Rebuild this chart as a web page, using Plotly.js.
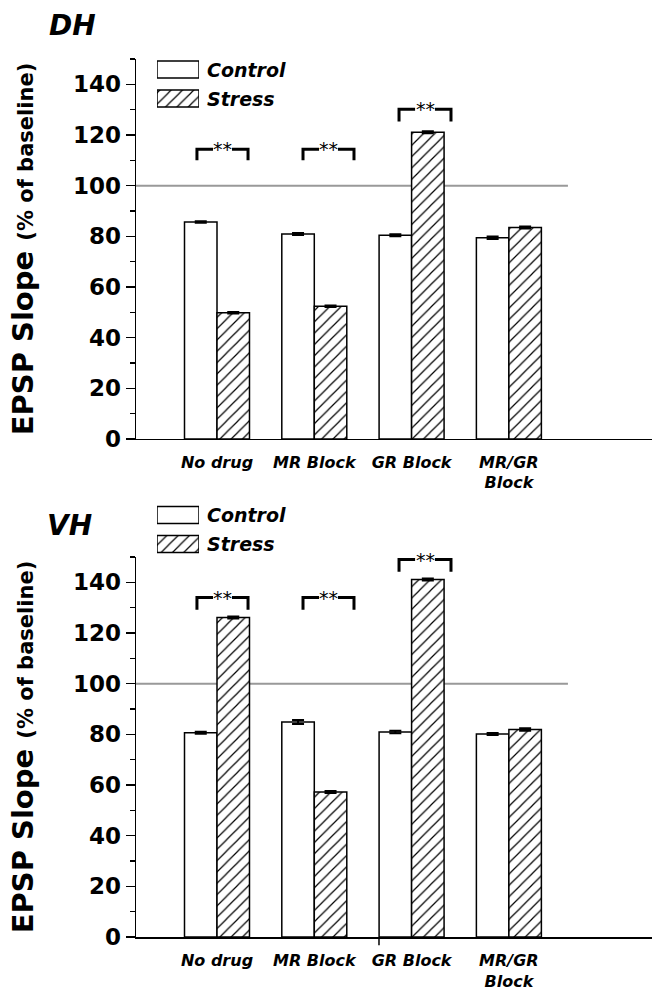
<!DOCTYPE html>
<html>
<head>
<meta charset="utf-8">
<script src="https://cdn.plot.ly/plotly-3.0.1.min.js"></script>
<style>html,body{margin:0;padding:0;background:#fff;}#chart{width:652px;height:993px;}</style>
</head>
<body>
<div id="chart"></div>
<script>
// ---- data ----
const categories = ['No drug', 'MR Block', 'GR Block', 'MR/GR<br>Block'];
const dhControl = [85.7, 80.9, 80.4, 79.4];
const dhControlErr = [0.3, 0.4, 0.4, 0.5];
const dhStress = [49.8, 52.4, 121.1, 83.5];
const dhStressErr = [0.3, 0.3, 0.4, 0.4];
const vhControl = [80.6, 84.9, 80.9, 80.1];
const vhControlErr = [0.4, 0.8, 0.5, 0.4];
const vhStress = [126.1, 57.2, 141.1, 81.9];
const vhStressErr = [0.4, 0.4, 0.4, 0.5];
const seriesNames = ['Control', 'Stress'];
const panelLabels = ['DH', 'VH'];
const yTicks = [0, 20, 40, 60, 80, 100, 120, 140];
const baseline = 100;
// significance brackets: [left, right, top, leg bottom] in data units
const dhBrackets = [[-0.206, 0.319, 114.4, 110], [0.884, 1.408, 114.4, 110], [1.871, 2.405, 130.2, 125.3]];
const vhBrackets = [[-0.206, 0.319, 134, 129.2], [0.884, 1.408, 134, 129.2], [1.871, 2.405, 149, 144.2]];
const sigLabel = '**';

// ---- styling ----
const FONT = 'DejaVu Sans';
const xRange = [-0.8325, 4.471];
const stressPattern = {shape: '/', fgcolor: '#000', bgcolor: '#fff', size: 8, solidity: 0.15};

function barTrace(vals, errs, name, xa, ya, hatched) {
  return {
    type: 'bar', x: categories, y: vals, name: name, xaxis: xa, yaxis: ya,
    showlegend: false,
    marker: Object.assign({color: '#fff', line: {color: '#000', width: 1.5}}, hatched ? {pattern: stressPattern} : {}),
    error_y: {type: 'data', array: errs, visible: true, color: '#000', thickness: 2, width: 6}
  };
}

function legendTrace(name, yv, xa, ya, hatched) {
  return {
    type: 'bar', orientation: 'h', x: [1], y: [yv], base: 0, width: 0.586, offset: -0.293,
    xaxis: xa, yaxis: ya, showlegend: false, hoverinfo: 'skip', name: name,
    marker: Object.assign({color: '#fff', line: {color: '#000', width: 1.5}}, hatched ? {pattern: stressPattern} : {})
  };
}

const traces = [
  barTrace(dhControl, dhControlErr, seriesNames[0], 'x', 'y', false),
  barTrace(dhStress, dhStressErr, seriesNames[1], 'x', 'y', true),
  barTrace(vhControl, vhControlErr, seriesNames[0], 'x2', 'y2', false),
  barTrace(vhStress, vhStressErr, seriesNames[1], 'x2', 'y2', true),
  legendTrace(seriesNames[0], 1, 'x3', 'y3', false),
  legendTrace(seriesNames[1], 0, 'x3', 'y3', true),
  legendTrace(seriesNames[0], 1, 'x4', 'y4', false),
  legendTrace(seriesNames[1], 0, 'x4', 'y4', true)
];

function xAxis(anchor) {
  return {
    anchor: anchor, domain: [0, 1], range: xRange, type: 'category',
    showline: true, linecolor: '#000', linewidth: 1.5, ticks: '', showgrid: false, zeroline: false,
    tickfont: {family: FONT, size: 16, color: '#000', weight: 'bold', style: 'italic'},
    ticklabelstandoff: 8, fixedrange: true
  };
}
function yAxis(anchor, domain) {
  return {
    anchor: anchor, domain: domain, range: [0, 150], tickvals: yTicks,
    showline: true, linecolor: '#000', linewidth: 1.5, ticks: 'outside', ticklen: 9, tickwidth: 1.5, tickcolor: '#000',
    minor: {dtick: 10, tick0: 0, ticks: 'outside', ticklen: 5, tickwidth: 1.5, tickcolor: '#000'},
    showgrid: false, zeroline: false,
    tickfont: {family: FONT, size: 23, color: '#000', weight: 'bold'},
    title: {text: 'EPSP Slope <span style="font-size:21px">(% of baseline)</span>',
            font: {family: FONT, size: 29, color: '#000', weight: 'bold'}, standoff: 30},
    fixedrange: true
  };
}
const hidden = {visible: false, fixedrange: true};

const shapes = [];
const annotations = [];
function addBrackets(list, xref, yref) {
  const seg = 0.165;
  list.forEach(b => {
    const [l, r, t, bot] = b;
    shapes.push({type: 'path', xref: xref, yref: yref,
      path: `M${l},${bot} L${l},${t} L${l + seg},${t}`, line: {color: '#000', width: 3}});
    shapes.push({type: 'path', xref: xref, yref: yref,
      path: `M${r - seg},${t} L${r},${t} L${r},${bot}`, line: {color: '#000', width: 3}});
    annotations.push({xref: xref, yref: yref, x: (l + r) / 2, y: t, text: sigLabel, showarrow: false,
      xanchor: 'center', yanchor: 'middle', yshift: 0, font: {family: FONT, size: 19, color: '#000'}});
  });
}
// baseline reference lines
shapes.push({type: 'line', xref: 'x', yref: 'y', x0: xRange[0], x1: 3.607, y0: baseline, y1: baseline,
  line: {color: '#999', width: 2}, layer: 'below'});
shapes.push({type: 'line', xref: 'x2', yref: 'y2', x0: xRange[0], x1: 3.607, y0: baseline, y1: baseline,
  line: {color: '#999', width: 2}, layer: 'below'});
// stray tick on lower axis
shapes.push({type: 'line', xref: 'x2', yref: 'paper', x0: 1.665, x1: 1.665, y0: 0, y1: -0.0095,
  line: {color: '#000', width: 1.5}});
addBrackets(dhBrackets, 'x', 'y');
addBrackets(vhBrackets, 'x2', 'y2');

// legend texts & panel labels
const legFont = {family: FONT, size: 19, color: '#000', weight: 'bold', style: 'italic'};
annotations.push({xref: 'paper', yref: 'paper', x: 0.1337, y: 0.98804, xanchor: 'left', yanchor: 'middle', showarrow: false, text: seriesNames[0], font: legFont});
annotations.push({xref: 'paper', yref: 'paper', x: 0.1337, y: 0.9550, xanchor: 'left', yanchor: 'middle', showarrow: false, text: seriesNames[1], font: legFont});
annotations.push({xref: 'paper', yref: 'paper', x: 0.1337, y: 0.48064, xanchor: 'left', yanchor: 'middle', showarrow: false, text: seriesNames[0], font: legFont});
annotations.push({xref: 'paper', yref: 'paper', x: 0.1337, y: 0.44761, xanchor: 'left', yanchor: 'middle', showarrow: false, text: seriesNames[1], font: legFont});
const panelFont = {family: FONT, size: 28, color: '#000', weight: 'bold', style: 'italic'};
annotations.push({xref: 'paper', yref: 'paper', x: -0.1725, y: 1.0376, xanchor: 'left', yanchor: 'middle', showarrow: false, text: panelLabels[0], font: panelFont});
annotations.push({xref: 'paper', yref: 'paper', x: -0.1764, y: 0.4692, xanchor: 'left', yanchor: 'middle', showarrow: false, text: panelLabels[1], font: panelFont});

const layout = {
  width: 652, height: 993,
  margin: {l: 136, r: 0, t: 59, b: 56},
  paper_bgcolor: '#fff', plot_bgcolor: 'rgba(0,0,0,0)',
  barmode: 'group', bargap: 0.332, bargroupgap: 0,
  showlegend: false,
  xaxis: xAxis('y'),
  yaxis: yAxis('x', [0.5672, 1]),
  xaxis2: xAxis('y2'),
  yaxis2: yAxis('x2', [0, 0.4328]),
  xaxis3: Object.assign({anchor: 'y3', domain: [0.0407, 0.1221], range: [0, 1]}, hidden),
  yaxis3: Object.assign({anchor: 'x3', domain: [0.93849, 1], range: [-0.5, 1.362]}, hidden),
  xaxis4: Object.assign({anchor: 'y4', domain: [0.0407, 0.1221], range: [0, 1]}, hidden),
  yaxis4: Object.assign({anchor: 'x4', domain: [0.4311, 0.4977], range: [-0.5, 1.517]}, hidden),
  shapes: shapes,
  annotations: annotations
};

Plotly.newPlot('chart', traces, layout, {displayModeBar: false, staticPlot: true});
</script>
</body>
</html>
